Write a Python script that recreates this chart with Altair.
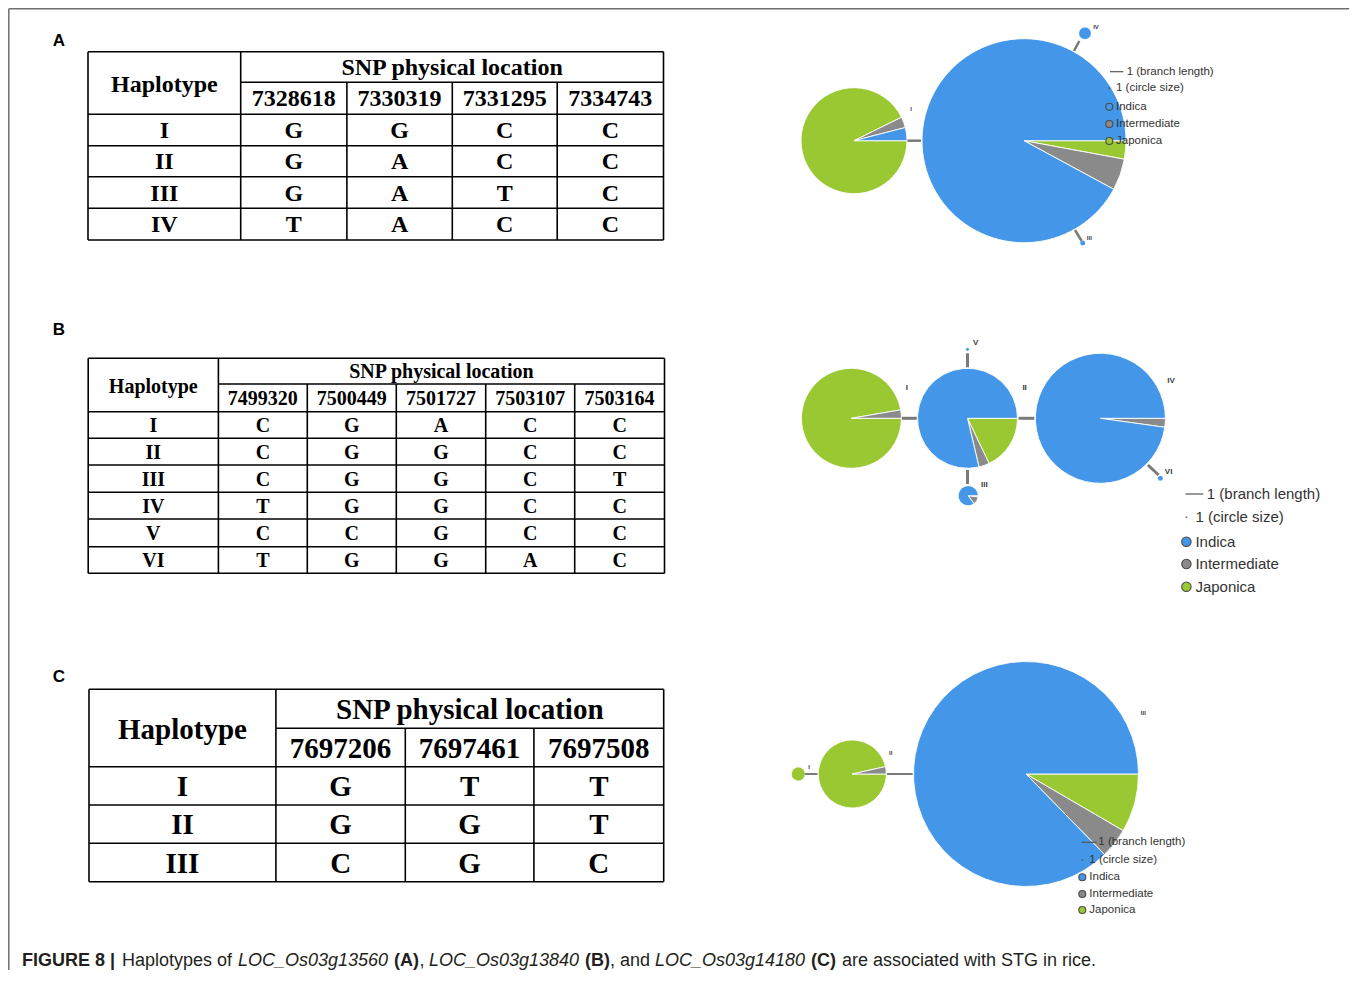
import math
import altair as alt
import pandas as pd

# ======================= content =======================
GROUPS = ["Japonica", "Intermediate", "Indica"]          # clockwise order from 3 o'clock
GROUP_COLORS = ["#9ac833", "#8a8a8a", "#4496e8"]
LEGEND_GROUPS = ["Indica", "Intermediate", "Japonica"]

A_POSITIONS = ["7328618", "7330319", "7331295", "7334743"]
A_HAPLOTYPES = ["I", "II", "III", "IV"]
A_ALLELES = [["G", "G", "C", "C"], ["G", "A", "C", "C"], ["G", "A", "T", "C"], ["T", "A", "C", "C"]]

B_POSITIONS = ["7499320", "7500449", "7501727", "7503107", "7503164"]
B_HAPLOTYPES = ["I", "II", "III", "IV", "V", "VI"]
B_ALLELES = [["C", "G", "A", "C", "C"], ["C", "G", "G", "C", "C"], ["C", "G", "G", "C", "T"],
             ["T", "G", "G", "C", "C"], ["C", "C", "G", "C", "C"], ["T", "G", "G", "A", "C"]]

C_POSITIONS = ["7697206", "7697461", "7697508"]
C_HAPLOTYPES = ["I", "II", "III"]
C_ALLELES = [["G", "T", "T"], ["G", "G", "T"], ["C", "G", "C"]]

# shares of Japonica / Intermediate / Indica accessions per haplotype
A_SHARES = [[0.927, 0.033, 0.040], [0.029, 0.050, 0.921], [0.0, 0.0, 1.0], [0.0, 0.0, 1.0]]
B_SHARES = [[0.973, 0.027, 0.0], [0.179, 0.034, 0.787], [0.02, 0.13, 0.85],
            [0.0, 0.022, 0.978], [0.0, 0.0, 1.0], [0.0, 0.0, 1.0]]
C_SHARES = [[1.0, 0.0, 0.0], [0.965, 0.035, 0.0], [0.084, 0.043, 0.873]]

HEADER_LEFT = "Haplotype"
HEADER_TOP = "SNP physical location"
PANEL_LETTERS = ["A", "B", "C"]
LEGEND_LINE_TEXT = "1 (branch length)"
LEGEND_DOT_TEXT = "1 (circle size)"

CAPTION = [("FIGURE 8 |", "bold", "normal"), ("Haplotypes of", "normal", "normal"),
           ("LOC_Os03g13560", "normal", "italic"), ("(A)", "bold", "normal"), (",", "normal", "normal"),
           ("LOC_Os03g13840", "normal", "italic"), ("(B)", "bold", "normal"), (", and", "normal", "normal"),
           ("LOC_Os03g14180", "normal", "italic"), ("(C)", "bold", "normal"),
           ("are associated with STG in rice.", "normal", "normal")]

# ============================== layout (pixels) ==============================
W, H = 1342, 962
X0, Y0 = 8, 8

TABLES = [
    dict(pos=A_POSITIONS, haps=A_HAPLOTYPES, alleles=A_ALLELES, font=24,
         cols=[88, 240.7, 346.9, 452.3, 557.2, 663.5],
         rows=[51.7, 82.3, 114.3, 145.7, 176.7, 208.3, 240]),
    dict(pos=B_POSITIONS, haps=B_HAPLOTYPES, alleles=B_ALLELES, font=20,
         cols=[88.2, 218.4, 307.3, 396.3, 485.7, 574.7, 664.5],
         rows=[358.3, 384, 411.7, 438.3, 465, 492.3, 519, 546.7, 573.3]),
    dict(pos=C_POSITIONS, haps=C_HAPLOTYPES, alleles=C_ALLELES, font=29,
         cols=[89, 275.9, 405.3, 533.9, 663.7],
         rows=[689.3, 728.3, 766.7, 805, 843.3, 881.7]),
]
PANEL_XY = [(59, 41), (59, 330), (59, 677)]

NETS = [
    dict(haps=A_HAPLOTYPES, shares=A_SHARES,
         centers=[(854, 140.7), (1024, 140.7), (1082.7, 243), (1085, 33.3)], radii=[53, 102, 2.5, 6],
         edges=[(907, 140.7, 921, 140.7), (1074, 51, 1079.3, 41), (1075, 230, 1081.7, 241)], edge_w=2.5,
         labels={"I": (911, 109.3), "III": (1089.3, 238.3), "IV": (1096, 26.7)}, label_size=6,
         leg=dict(line=(1110, 1123.3, 71.7), line_tx=1126.7, dot=(1109.3, 88.3), tx=1116,
                  cx=1109.3, cys=[106.7, 124, 141], r=3.5, font=11.5)),
    dict(haps=B_HAPLOTYPES, shares=B_SHARES,
         centers=[(851.4, 418.3), (967.5, 418.3), (968.2, 495.7), (1100.4, 418.3), (967.5, 349.3), (1160.4, 478.3)],
         radii=[50, 50, 10, 65, 1.6, 2.5],
         edges=[(901.4, 418.3, 916.8, 418.3), (1018.6, 418.3, 1034.3, 418.3), (967.5, 353.3, 967.5, 367.3),
                (967.5, 470, 967.5, 484), (1147.9, 465, 1158.6, 475)], edge_w=3,
         labels={"I": (906.8, 388.3), "II": (1024.6, 388.3), "III": (984.3, 485), "IV": (1171, 380.7),
                 "V": (975.7, 343.3), "VI": (1168.6, 471.7)}, label_size=8,
         leg=dict(line=(1185.4, 1203.2, 494), line_tx=1206.8, dot=(1186.4, 517.3), tx=1195.4,
                  cx=1186.4, cys=[541.7, 564, 586.7], r=4.7, font=15)),
    dict(haps=C_HAPLOTYPES, shares=C_SHARES,
         centers=[(798.3, 774), (852.3, 774), (1026, 774)], radii=[6.7, 34, 112.5],
         edges=[(804.3, 774, 817.7, 774), (886.7, 774, 912.7, 774)], edge_w=2,
         labels={"I": (809, 766.7), "II": (890.7, 752.7), "III": (1143.3, 713.3)}, label_size=6,
         leg=dict(line=(1081.7, 1096.7, 842.3), line_tx=1098.3, dot=(1082.3, 860), tx=1089.3,
                  cx=1082.3, cys=[877.3, 894, 910], r=3.5, font=11.5)),
]
CAPTION_X = [22, 122, 238, 394, 419.5, 429, 585, 610, 655, 811, 842]
CAPTION_Y = 965.5
CAPTION_SIZE = 18
FRAME = dict(left=8.8, right=1349.2, top=8.8, bottom=970)

# ================================ scales ================================
xs = alt.Scale(domain=[X0, X0 + W], range=[0, W], nice=False, zero=False)
ys = alt.Scale(domain=[Y0, Y0 + H], range=[0, H], nice=False, zero=False)
theta_scale = alt.Scale(domain=[0, 1], range=[math.pi / 2, math.pi / 2 + 2 * math.pi])
color_scale = alt.Scale(domain=GROUPS, range=GROUP_COLORS)


def X(f):
    return alt.X(f, type="quantitative", scale=xs, axis=None)


def Y(f):
    return alt.Y(f, type="quantitative", scale=ys, axis=None)


def text_layer(rows, font, weight="normal", style="normal", align="center", baseline="middle", color="#000"):
    df = pd.DataFrame(rows, columns=["x", "y", "t", "s"])
    return alt.Chart(df).mark_text(font=font, fontWeight=weight, fontStyle=style, align=align,
                                   baseline=baseline, color=color).encode(
        x=X("x"), y=Y("y"), text="t:N", size=alt.Size("s:Q", scale=None))


layers = []

# ---- frame (left and top edges; the right edge lies beyond the drawable page) ----
frame_df = pd.DataFrame([
    dict(x=FRAME["left"], y=FRAME["top"], x2=FRAME["left"], y2=FRAME["bottom"]),
    dict(x=FRAME["left"], y=FRAME["top"], x2=FRAME["right"], y2=FRAME["top"]),
])
layers.append(alt.Chart(frame_df).mark_rule(color="#6f6f6f", strokeWidth=1.5).encode(
    x=X("x"), y=Y("y"), x2="x2", y2="y2"))

# ---- tables ----
line_rows, serif_rows = [], []
for tb in TABLES:
    c, r = tb["cols"], tb["rows"]
    left, right, top, snp, hb, bottom = c[0], c[-1], r[0], r[1], r[2], r[-1]
    for yy in [top, hb] + r[3:]:
        line_rows.append(dict(x=left, y=yy, x2=right, y2=yy))
    line_rows.append(dict(x=c[1], y=snp, x2=right, y2=snp))
    for xx in [left, c[1], right]:
        line_rows.append(dict(x=xx, y=top, x2=xx, y2=bottom))
    for xx in c[2:-1]:
        line_rows.append(dict(x=xx, y=snp, x2=xx, y2=bottom))
    f = tb["font"]
    serif_rows.append(((c[0] + c[1]) / 2, (top + hb) / 2 + 1.5, HEADER_LEFT, f))
    serif_rows.append(((c[1] + right) / 2, (top + snp) / 2 + 1, HEADER_TOP, f))
    for j, p in enumerate(tb["pos"]):
        serif_rows.append(((c[j + 1] + c[j + 2]) / 2, (snp + hb) / 2 + 1, p, f))
    for i, hname in enumerate(tb["haps"]):
        yc = (r[i + 2] + r[i + 3]) / 2 + 1
        serif_rows.append(((c[0] + c[1]) / 2, yc, hname, f))
        for j, a in enumerate(tb["alleles"][i]):
            serif_rows.append(((c[j + 1] + c[j + 2]) / 2, yc, a, f))

layers.append(alt.Chart(pd.DataFrame(line_rows)).mark_rule(color="#000", strokeWidth=1.6).encode(
    x=X("x"), y=Y("y"), x2="x2", y2="y2"))
layers.append(text_layer(serif_rows, "Liberation Serif", weight="bold"))

# ---- panel letters ----
layers.append(text_layer([(x, y, t, 17) for (x, y), t in zip(PANEL_XY, PANEL_LETTERS)],
                         "Liberation Sans", weight="bold"))

# ---- haplotype networks ----
pie_rows, edge_rows, lab_rows = [], [], []
legline_rows, legtext_rows, dot_rows, fill_rows = [], [], [], []
for net in NETS:
    for hname, sh, (cx, cy), rad in zip(net["haps"], net["shares"], net["centers"], net["radii"]):
        start = 0.0
        for g, s in zip(GROUPS, sh):
            if s > 0:
                pie_rows.append(dict(x=cx, y=cy, r=rad, a0=start, a1=min(1.0, start + s), g=g,
                                     sw=0.9 if rad > 8 else 0.2))
                start += s
    for (x1, y1, x2, y2) in net["edges"]:
        edge_rows.append(dict(x=x1, y=y1, x2=x2, y2=y2, w=net["edge_w"]))
    for hname, (lx, ly) in net["labels"].items():
        lab_rows.append((lx, ly, hname, net["label_size"]))
    lg = net["leg"]
    legline_rows.append(dict(x=lg["line"][0], x2=lg["line"][1], y=lg["line"][2], y2=lg["line"][2]))
    legtext_rows.append((lg["line_tx"], lg["line"][2], LEGEND_LINE_TEXT, lg["font"]))
    dot_rows.append(dict(x=lg["dot"][0], y=lg["dot"][1], s=4))
    legtext_rows.append((lg["tx"], lg["dot"][1], LEGEND_DOT_TEXT, lg["font"]))
    for g, cyy in zip(LEGEND_GROUPS, lg["cys"]):
        fill_rows.append(dict(x=lg["cx"], y=cyy, g=g, s=(2 * lg["r"]) ** 2))
        legtext_rows.append((lg["tx"], cyy, g, lg["font"]))

layers.append(alt.Chart(pd.DataFrame(edge_rows)).mark_rule(color="#7a7a7a").encode(
    x=X("x"), y=Y("y"), x2="x2", y2="y2", strokeWidth=alt.StrokeWidth("w:Q", scale=None)))
layers.append(alt.Chart(pd.DataFrame(pie_rows)).mark_arc(stroke="white").encode(
    x=X("x"), y=Y("y"),
    theta=alt.Theta("a0:Q", scale=theta_scale, stack=None), theta2="a1:Q",
    radius=alt.Radius("r:Q", scale=None),
    color=alt.Color("g:N", scale=color_scale, legend=None),
    strokeWidth=alt.StrokeWidth("sw:Q", scale=None)))
layers.append(text_layer(lab_rows, "Liberation Sans", weight="bold", color="#3a3a3a"))

# legends
layers.append(alt.Chart(pd.DataFrame(legline_rows)).mark_rule(color="#555", strokeWidth=1.2).encode(
    x=X("x"), y=Y("y"), x2="x2", y2="y2"))
layers.append(alt.Chart(pd.DataFrame(dot_rows)).mark_point(filled=True, shape="circle", color="#444").encode(
    x=X("x"), y=Y("y"), size=alt.Size("s:Q", scale=None)))
layers.append(alt.Chart(pd.DataFrame(fill_rows)).mark_point(filled=True, shape="circle", stroke="#4a4a4a",
                                                            strokeWidth=1.1, opacity=1).encode(
    x=X("x"), y=Y("y"), size=alt.Size("s:Q", scale=None),
    color=alt.Color("g:N", scale=color_scale, legend=None)))
layers.append(text_layer(legtext_rows, "Liberation Sans", align="left", color="#333"))

# ---- caption ----
for (txt, wt, st), cx in zip(CAPTION, CAPTION_X):
    layers.append(text_layer([(cx, CAPTION_Y, txt, CAPTION_SIZE)], "Liberation Sans", weight=wt, style=st,
                             align="left", baseline="alphabetic", color="#231f20"))

chart = alt.layer(*layers).properties(
    width=W, height=H, padding=0,
    autosize=alt.AutoSizeParams(type="fit", contains="padding"),
).configure_view(stroke=None)

chart.save("out.html", embed_options={"renderer": "svg", "actions": False})
